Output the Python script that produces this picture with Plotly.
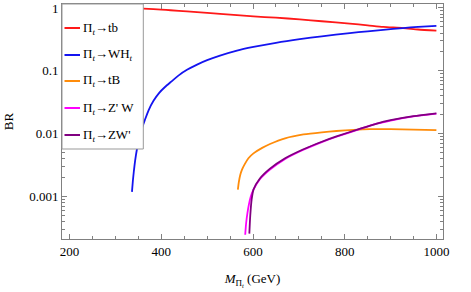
import plotly.graph_objects as go

# ---- data ----
M_tb = [200, 250, 300, 336, 350, 361, 383, 400, 420, 456, 500, 528, 601, 650, 702, 750, 811, 850, 884, 927, 960, 1000]
BR_tb = [0.995, 0.995, 0.995, 0.993, 0.985, 0.975, 0.955, 0.94, 0.92, 0.88, 0.835, 0.805, 0.735, 0.70, 0.66, 0.615, 0.565, 0.53, 0.50, 0.48, 0.455, 0.435]

M_WH = [336, 338, 340, 343, 347, 352, 357, 364, 372, 383, 395, 408, 420, 438, 456, 478, 500, 528, 565, 601, 650, 702, 750, 811, 850, 884, 927, 960, 1000]
BR_WH = [0.0012, 0.0018, 0.0025, 0.0038, 0.0058, 0.0088, 0.0118, 0.0165, 0.0235, 0.0335, 0.0445, 0.0555, 0.066, 0.085, 0.104, 0.126, 0.148, 0.175, 0.21, 0.24, 0.28, 0.32, 0.355, 0.40, 0.425, 0.45, 0.48, 0.50, 0.52]

M_tB = [567, 569, 572, 576, 582, 590, 601, 620, 637, 670, 710, 750, 782, 820, 855, 900, 950, 1000]
BR_tB = [0.0013, 0.0017, 0.0022, 0.0027, 0.0033, 0.0041, 0.0049, 0.006, 0.0069, 0.0085, 0.0098, 0.0106, 0.0111, 0.0116, 0.0119, 0.0119, 0.0117, 0.0115]

M_ZpW = [583, 585, 588, 591, 595, 601, 615, 637, 670, 710, 750, 782, 834, 870, 900, 950, 1000]
BR_ZpW = [0.00025, 0.00038, 0.00056, 0.00075, 0.001, 0.0013, 0.0019, 0.0027, 0.004, 0.0056, 0.0074, 0.009, 0.012, 0.0145, 0.0163, 0.019, 0.021]

M_ZWp = [592, 594, 597, 601, 615, 637, 670, 710, 750, 782, 834, 870, 900, 950, 1000]
BR_ZWp = [0.00026, 0.0005, 0.0009, 0.0013, 0.00195, 0.0028, 0.0041, 0.0057, 0.0075, 0.0091, 0.0121, 0.0146, 0.0165, 0.0191, 0.0212]

names = ["Π<sub><i>t</i></sub>→tb", "Π<sub><i>t</i></sub>→WH<sub><i>t</i></sub>",
         "Π<sub><i>t</i></sub>→tB", "Π<sub><i>t</i></sub>→Z' W", "Π<sub><i>t</i></sub>→ZW'"]
colors = ["rgb(255,25,25)", "rgb(20,20,240)", "rgb(255,140,10)", "rgb(255,0,255)", "rgb(128,0,128)"]
series = [(M_tb, BR_tb), (M_WH, BR_WH), (M_tB, BR_tB), (M_ZpW, BR_ZpW), (M_ZWp, BR_ZWp)]

x_ticks = [200, 400, 600, 800, 1000]
x_minor = [250, 300, 350, 450, 500, 550, 650, 700, 750, 850, 900, 950]
y_tickvals = [1, 0.1, 0.01, 0.001]
y_ticktext = ["1", "0.1", "0.01", "0.001"]
y_minor = [m * 10.0 ** e for e in (-4, -3, -2, -1) for m in range(2, 10)]

FONT = "Liberation Serif"
TICKC = "#808080"
W, H = 471, 292
L, R, T, B = 62, 28, 4, 53
PW, PH = W - L - R, H - T - B


def px_x(p):
    return (p - L) / PW


def px_y(p):
    return 1 - (p - T) / PH


fig = go.Figure()
for (xs, ys), nm, c in zip(series, names, colors):
    fig.add_trace(go.Scatter(x=xs, y=ys, mode="lines", name=nm,
                             line=dict(color=c, width=1.8, shape="spline", smoothing=0.6),
                             showlegend=False))

axis_common = dict(showline=True, linecolor=TICKC, linewidth=1, mirror="ticks",
                   ticks="inside", tickcolor=TICKC, tickwidth=1, showgrid=False, zeroline=False,
                   automargin=False,
                   tickfont=dict(family=FONT, size=13, color="black"))

fig.update_xaxes(range=[183.4, 1014.4], tickmode="array", tickvals=x_ticks, ticklen=5,
                 minor=dict(tickmode="array", tickvals=x_minor, ticks="inside", ticklen=3,
                            tickcolor=TICKC, tickwidth=1),
                 title=dict(text="<i>M</i><sub>Π<sub><i>t</i></sub></sub> (GeV)",
                            font=dict(family=FONT, size=13, color="black"), standoff=16),
                 **axis_common)
fig.update_yaxes(type="log", range=[-3.67, 0.063], tickmode="array", tickvals=y_tickvals,
                 ticktext=y_ticktext, ticklen=5,
                 minor=dict(tickmode="array", tickvals=y_minor, ticks="inside", ticklen=3,
                            tickcolor=TICKC, tickwidth=1),
                 title=dict(text="BR", font=dict(family=FONT, size=13, color="black"), standoff=12),
                 **axis_common)

# legend box (Mathematica-style, inside the frame at top-left)
shapes = [dict(type="rect", xref="paper", yref="paper", x0=0, x1=px_x(143.3),
               y0=px_y(149), y1=1, line=dict(color="#999", width=1), fillcolor="white",
               layer="above")]
annotations = []
entry_y = [28, 55, 81, 108, 135]
for nm, c, yy in zip(names, colors, entry_y):
    shapes.append(dict(type="line", xref="paper", yref="paper", x0=px_x(64.5), x1=px_x(80),
                       y0=px_y(yy), y1=px_y(yy), line=dict(color=c, width=2), layer="above"))
    annotations.append(dict(text=nm, xref="paper", yref="paper", x=px_x(81), y=px_y(yy),
                            xanchor="left", yanchor="middle", showarrow=False,
                            font=dict(family=FONT, size=13, color="black")))

fig.update_layout(width=W, height=H, margin=dict(l=L, r=R, t=T, b=B),
                  plot_bgcolor="white", paper_bgcolor="white",
                  shapes=shapes, annotations=annotations, showlegend=False)

fig.write_html("out.html", config={"displayModeBar": False},
               post_script="document.body.style.margin='0';")
